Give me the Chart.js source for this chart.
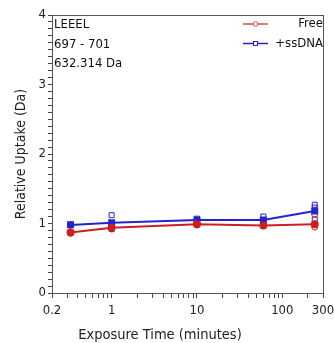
<!DOCTYPE html>
<html>
<head>
<meta charset="utf-8">
<script src="https://cdn.jsdelivr.net/npm/chart.js@4"></script>
<style>
  html, body { margin: 0; padding: 0; background: #fff; }
  #wrap { width: 334px; height: 343px; }
</style>
</head>
<body>
<div id="wrap"><canvas id="grafico" width="334" height="343"></canvas></div>
<script>
// dados
const tempos = [0.33, 1, 10, 60, 240];
const freeMedia = [0.87, 0.94, 0.99, 0.97, 0.99];
const ssdnaMedia = [0.98, 1.01, 1.05, 1.05, 1.18];
const freeReplicas = [[0.88, 0.86], [0.96, 0.92], [1.0, 0.98], [0.98, 0.97], [1.13, 0.95]];
const ssdnaReplicas = [[0.99, 0.98], [1.12, 1.0, 0.92], [1.07, 1.04], [1.1, 1.03], [1.27, 1.23, 1.06]];
const xTicks = [0.2, 0.3, 0.4, 0.5, 0.6, 0.7, 0.8, 0.9, 1, 2, 3, 4, 5, 6, 7, 8, 9, 10, 20, 30, 40, 50, 60, 70, 80, 90, 100, 200, 300];
const xLabels = [0.2, 1, 10, 100, 300];
const infoLinhas = ['LEEEL', '697 - 701', '632.314 Da'];
const nomes = ['Free', '+ssDNA'];
const tituloX = 'Exposure Time (minutes)';

const vermelho = '#cc2020';
const azul = '#2424cc';
const fonte = 'Tahoma, "DejaVu Sans Condensed", "DejaVu Sans", sans-serif';

function pontos(ys) {
    return tempos.map((t, i) => ({ x: t, y: ys[i] }));
}
function replicas(reps) {
    const out = [];
    reps.forEach((lista, i) => lista.forEach(v => out.push({ x: tempos[i], y: v })));
    return out;
}

// caixa, textos e legenda dentro do gráfico
const extras = {
    id: 'extras',
    afterDraw(chart) {
        const ctx = chart.ctx;
        const a = chart.chartArea;
        ctx.save();
        ctx.strokeStyle = '#555';
        ctx.lineWidth = 1;
        ctx.strokeRect(a.left + 0.5, a.top + 0.5, a.right - a.left, a.bottom - a.top);

        ctx.font = '13px ' + fonte;
        ctx.fillStyle = '#111';
        ctx.textBaseline = 'middle';
        ctx.textAlign = 'left';
        infoLinhas.forEach((t, i) => ctx.fillText(t, a.left + 2, a.top + 10 + i * 19.5));

        // legenda
        const cores = ['#d84a4a', azul];
        nomes.forEach((n, i) => {
            const y = a.top + 9 + i * 19.5;
            const x0 = a.right - 80;
            ctx.strokeStyle = cores[i];
            ctx.lineWidth = 1.5;
            ctx.beginPath();
            ctx.moveTo(x0, y);
            ctx.lineTo(x0 + 25, y);
            ctx.stroke();
            ctx.lineWidth = 1;
            ctx.fillStyle = '#fff';
            if (i === 0) {
                ctx.beginPath();
                ctx.arc(x0 + 12.5, y, 2.3, 0, Math.PI * 2);
                ctx.fill();
                ctx.stroke();
            } else {
                ctx.fillRect(x0 + 10.5, y - 2, 4, 4);
                ctx.strokeRect(x0 + 10.5, y - 2, 4, 4);
            }
            ctx.fillStyle = '#111';
            ctx.textAlign = 'right';
            ctx.fillText(n, a.right, y);
        });

        // título do eixo x (deslocado à esquerda como no original)
        ctx.font = '14.5px ' + fonte;
        ctx.fillStyle = '#222';
        ctx.textAlign = 'center';
        ctx.fillText(tituloX, a.left + 108, a.bottom + 42);
        ctx.restore();
    }
};

function criarGrafico() {
    const ctx = document.getElementById('grafico').getContext('2d');
    new Chart(ctx, {
        type: 'line',
        data: {
            datasets: [
                {
                    label: nomes[0],
                    data: pontos(freeMedia),
                    borderColor: vermelho,
                    backgroundColor: vermelho,
                    borderWidth: 2,
                    pointStyle: 'circle',
                    pointRadius: 3,
                },
                {
                    label: nomes[1],
                    data: pontos(ssdnaMedia),
                    borderColor: azul,
                    backgroundColor: azul,
                    borderWidth: 2,
                    pointStyle: 'rect',
                    pointRadius: 3.5,
                },
                {
                    label: 'free rep',
                    data: replicas(freeReplicas),
                    showLine: false,
                    borderColor: vermelho,
                    backgroundColor: 'rgba(255,255,255,0)',
                    pointBorderWidth: 1,
                    pointStyle: 'circle',
                    pointRadius: 3,
                },
                {
                    label: 'ssdna rep',
                    data: replicas(ssdnaReplicas),
                    showLine: false,
                    borderColor: azul,
                    backgroundColor: 'rgba(255,255,255,0)',
                    pointBorderWidth: 1,
                    pointStyle: 'rect',
                    pointRadius: 3.5,
                }
            ]
        },
        options: {
            responsive: false,
            animation: false,
            events: [],
            layout: { padding: { top: 15, right: 11, left: 13, bottom: 0 } },
            plugins: {
                legend: { display: false },
                tooltip: { enabled: false }
            },
            scales: {
                x: {
                    type: 'logarithmic',
                    min: 0.2,
                    max: 300,
                    afterBuildTicks: function (scale) {
                        scale.ticks = xTicks.map(v => ({ value: v }));
                    },
                    afterFit: function (scale) {
                        scale.height = 50;
                        scale.paddingRight = 0;
                        scale.paddingLeft = 0;
                    },
                    ticks: {
                        autoSkip: false,
                        maxRotation: 0,
                        padding: 5,
                        color: '#222',
                        font: { size: 13, family: fonte },
                        callback: function (value) {
                            return xLabels.includes(value) ? String(value) : '';
                        }
                    },
                    grid: { drawOnChartArea: false, tickLength: 5, color: '#444' },
                    border: { color: '#555' },
                    title: { display: false }
                },
                y: {
                    min: 0,
                    max: 4,
                    afterFit: function (scale) { scale.width = 39; },
                    ticks: {
                        stepSize: 0.1,
                        autoSkip: false,
                        padding: 2,
                        color: '#222',
                        font: { size: 13, family: fonte },
                        callback: function (value) {
                            return Math.abs(value - Math.round(value)) < 1e-6 ? String(Math.round(value)) : '';
                        }
                    },
                    grid: { drawOnChartArea: false, tickLength: 4, color: '#444' },
                    border: { color: '#555' },
                    title: {
                        display: true,
                        text: 'Relative Uptake (Da)',
                        color: '#222',
                        font: { size: 14, family: fonte },
                        padding: { top: 0, bottom: 4 }
                    }
                }
            }
        },
        plugins: [extras]
    });
}

criarGrafico();
</script>
</body>
</html>
